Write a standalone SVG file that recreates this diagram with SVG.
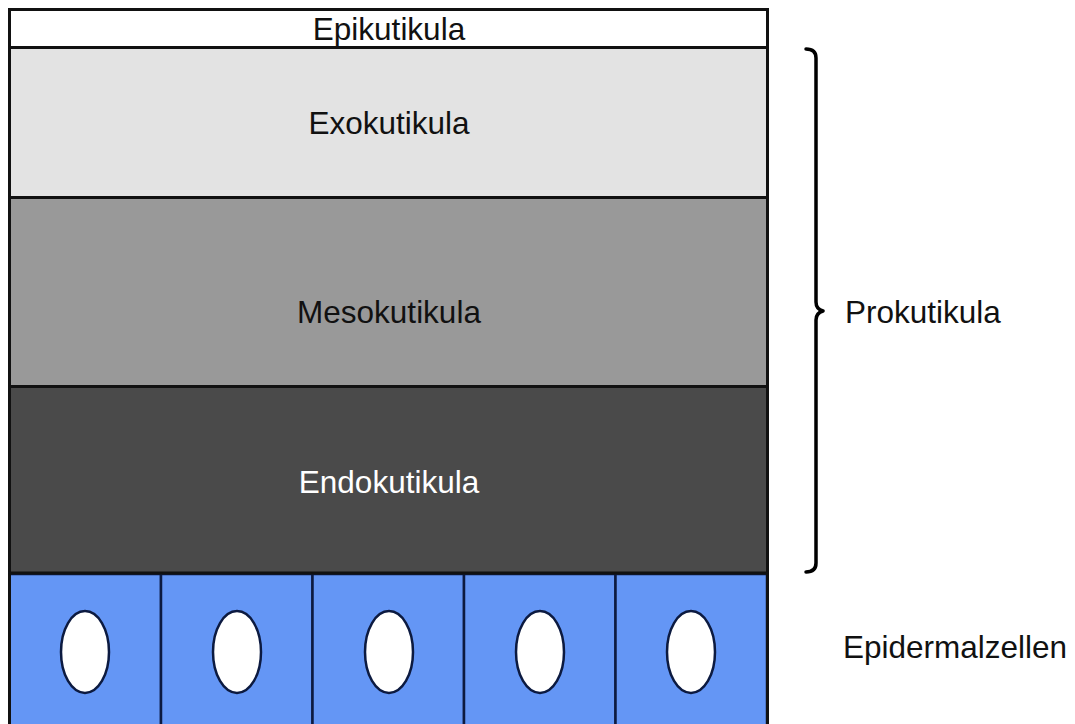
<svg xmlns="http://www.w3.org/2000/svg" width="1075" height="724" viewBox="0 0 1075 724">
  <style>
    .lbl { font-family: "Liberation Sans", Arial, sans-serif; font-size: 31.5px; fill: #111; }
    .mid { text-anchor: middle; }
    .layer { stroke: #111; stroke-width: 3; }
    .cell { fill: #6496f5; stroke: #0c1a40; stroke-width: 2.5; }
    .nucleus { fill: #ffffff; stroke: #0c1a40; stroke-width: 2.5; }
    .brace { fill: none; stroke: #000; stroke-width: 3.5; stroke-linecap: round; stroke-linejoin: round; }
  </style>

  <rect width="1075" height="724" fill="#ffffff"/>

  <!-- cuticle layers -->
  <g id="epikutikula">
    <rect class="layer" x="9.5" y="9.5" width="758" height="38" fill="#ffffff"/>
    <text class="lbl mid" x="389" y="40">Epikutikula</text>
  </g>
  <g id="exokutikula">
    <rect class="layer" x="9.5" y="47.5" width="758" height="150" fill="#e3e3e3"/>
    <text class="lbl mid" x="389" y="134">Exokutikula</text>
  </g>
  <g id="mesokutikula">
    <rect class="layer" x="9.5" y="197.5" width="758" height="189" fill="#999999"/>
    <text class="lbl mid" x="389" y="323">Mesokutikula</text>
  </g>
  <g id="endokutikula">
    <rect class="layer" x="9.5" y="386.5" width="758" height="187" fill="#4a4a4a"/>
    <text class="lbl mid" x="389" y="493" style="fill:#ffffff">Endokutikula</text>
  </g>

  <!-- epidermal cells -->
  <g id="epidermis">
    <rect class="cell" x="9.5" y="574" width="151.5" height="155"/>
    <rect class="cell" x="161" y="574" width="151.5" height="155"/>
    <rect class="cell" x="312.5" y="574" width="151.5" height="155"/>
    <rect class="cell" x="464" y="574" width="151.5" height="155"/>
    <rect class="cell" x="615.5" y="574" width="151.5" height="155"/>
    <line x1="9.5" y1="573" x2="767.5" y2="573" stroke="#111" stroke-width="3"/>
    <line x1="9.5" y1="573" x2="9.5" y2="724" stroke="#111" stroke-width="3"/>
    <line x1="767.5" y1="573" x2="767.5" y2="724" stroke="#111" stroke-width="3"/>
    <ellipse class="nucleus" cx="85" cy="652" rx="24" ry="41"/>
    <ellipse class="nucleus" cx="237" cy="652" rx="24" ry="41"/>
    <ellipse class="nucleus" cx="389" cy="652" rx="24" ry="41"/>
    <ellipse class="nucleus" cx="540" cy="652" rx="24" ry="41"/>
    <ellipse class="nucleus" cx="691" cy="652" rx="24" ry="41"/>
  </g>

  <!-- brace grouping the procuticle layers -->
  <g id="connectors">
    <path class="brace" d="M806 49 Q816 49 816 58 L816 302 Q816 309 823 311 Q816 313 816 320 L816 563 Q816 572 806 572"/>
  </g>

  <g id="prokutikula">
    <text class="lbl" x="845" y="323">Prokutikula</text>
  </g>
  <g id="epidermalzellen">
    <text class="lbl" x="843" y="658">Epidermalzellen</text>
  </g>
</svg>
